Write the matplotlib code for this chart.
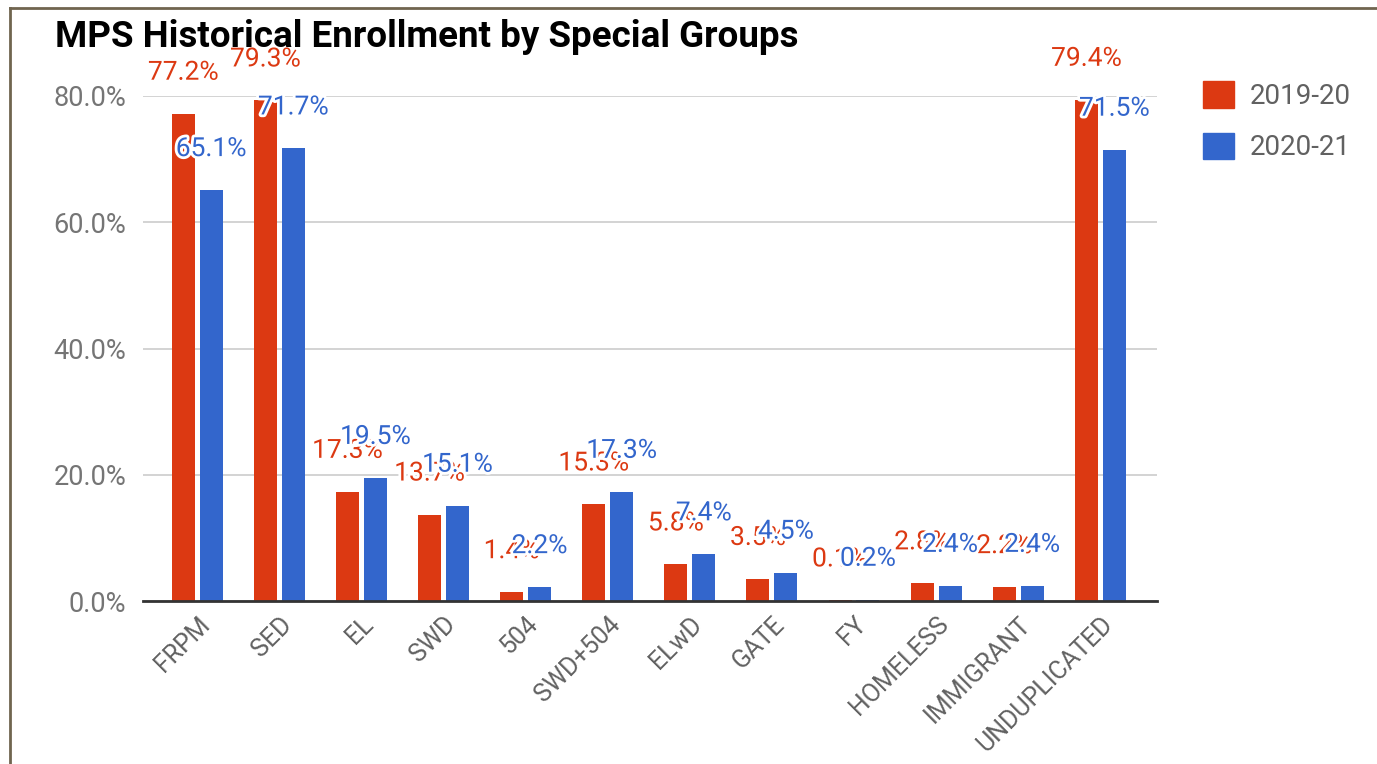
import matplotlib.pyplot as plt
import matplotlib.patheffects as pe
from matplotlib.patches import Patch
from matplotlib.lines import Line2D
import numpy as np

# 数据
groups = ['FRPM', 'SED', 'EL', 'SWD', '504', 'SWD+504', 'ELwD', 'GATE', 'FY',
          'HOMELESS', 'IMMIGRANT', 'UNDUPLICATED']
y1920 = [77.2, 79.3, 17.3, 13.7, 1.4, 15.3, 5.8, 3.5, 0.1, 2.8, 2.2, 79.4]
y2021 = [65.1, 71.7, 19.5, 15.1, 2.2, 17.3, 7.4, 4.5, 0.2, 2.4, 2.4, 71.5]
yticks = [0, 20, 40, 60, 80]

red = '#DC3912'
blue = '#3366CC'

plt.rcParams['font.family'] = ['Roboto', 'DejaVu Sans']

fig = plt.figure(figsize=(13.77, 7.64), dpi=100, facecolor='w')
ax = fig.add_axes([143 / 1377, 163 / 764, 1014 / 1377, 505 / 764])

x = np.arange(len(groups))
w = 0.28
off = 0.17
ax.bar(x - off, y1920, w, color=red, zorder=3)
ax.bar(x + off, y2021, w, color=blue, zorder=3)

halo = [pe.withStroke(linewidth=4, foreground='white')]
for xs, vals, c in [(x - off, y1920, red), (x + off, y2021, blue)]:
    for xi, v in zip(xs, vals):
        ax.annotate(f'{v}%', (xi, v), xytext=(0, 29.5), textcoords='offset points',
                    ha='center', va='center', fontsize=19, color=c,
                    path_effects=halo, annotation_clip=False, zorder=5)

ax.set_xlim(-0.66, 11.69)
ax.set_ylim(0, 80)
ax.set_yticks(yticks)
ax.set_yticklabels([f'{t:.1f}%' for t in yticks])
ax.tick_params(axis='y', length=0, pad=12, labelsize=19.5, labelcolor='#757575')
ax.set_xticks(x)
ax.set_xticklabels(groups, rotation=45, ha='right', rotation_mode='anchor')
ax.tick_params(axis='x', length=0, pad=8, labelsize=18, labelcolor='#616161')
ax.grid(axis='y', color='#cccccc', linewidth=1.2, zorder=0)
for s in ['top', 'right', 'left']:
    ax.spines[s].set_visible(False)
ax.spines['bottom'].set_color('#333333')
ax.spines['bottom'].set_linewidth(2)
ax.spines['bottom'].set_zorder(4)

fig.text(55 / 1377, 1 - 37 / 764, 'MPS Historical Enrollment by Special Groups',
         fontsize=26.5, fontweight='bold', color='black', va='center')

handles = [Patch(color=red, label='2019-20'), Patch(color=blue, label='2020-21')]
fig.legend(handles=handles, loc='upper left', bbox_to_anchor=(1203 / 1377, 1 - 81 / 764),
           frameon=False, fontsize=20, handlelength=1.1, handleheight=1.1,
           borderpad=0, borderaxespad=0,
           labelspacing=0.82, handletextpad=0.6, labelcolor='#616161')

# 外框
fig.add_artist(Line2D([10 / 1377, 10 / 1377], [0, 1 - 8 / 764], color='#70654f', linewidth=2))
fig.add_artist(Line2D([10 / 1377, 1], [1 - 8 / 764, 1 - 8 / 764], color='#70654f', linewidth=2))

plt.savefig('out.png', dpi=100)
